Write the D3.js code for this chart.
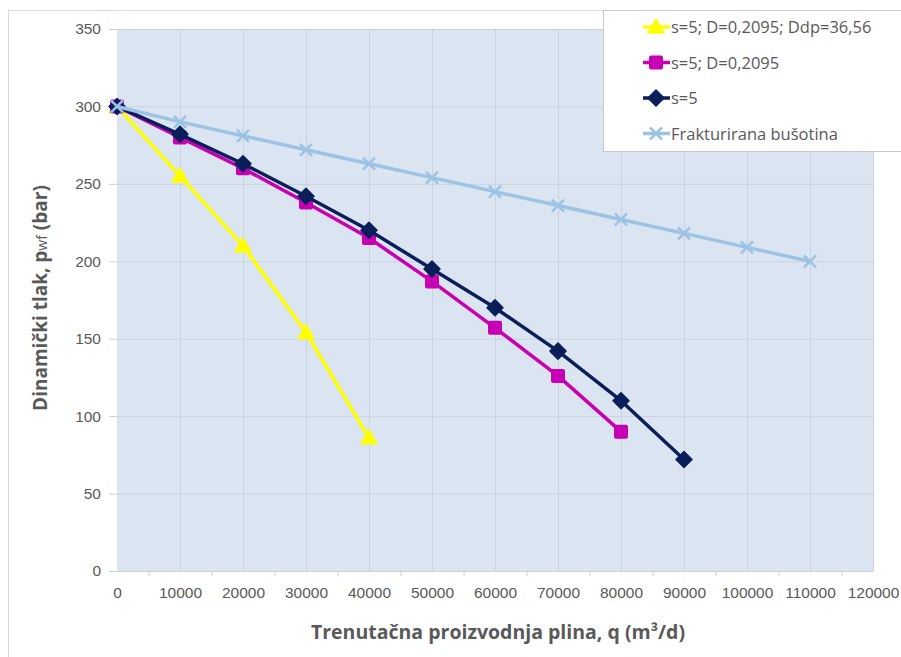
<!DOCTYPE html>
<html>
<head>
<meta charset="utf-8">
<script src="https://cdn.jsdelivr.net/npm/d3@7"></script>
<style>
  body { margin: 0; background: #fff; }
  svg { display: block; font-family: "Open Sans", "Liberation Sans", sans-serif; }
</style>
</head>
<body>
<svg id="chart" width="901" height="657"></svg>
<script>
// protok plina (m3/d)
var protok = [0, 10000, 20000, 30000, 40000, 50000, 60000, 70000, 80000, 90000, 100000, 110000];
var xTicks = [0, 10000, 20000, 30000, 40000, 50000, 60000, 70000, 80000, 90000, 100000, 110000, 120000];
var yTicks = [0, 50, 100, 150, 200, 250, 300, 350];

var tlakSDDdp = [300, 255, 210, 154, 86];
var tlakSD = [300, 280, 260, 238, 215, 187, 157, 126, 90];
var tlakS = [300, 282, 263, 242, 220, 195, 170, 142, 110, 72];
var tlakFrak = [300, 290, 281, 272, 263, 254, 245, 236, 227, 218, 209, 200];

var serije = [
  { naziv: "s=5; D=0,2095; Ddp=36,56", vrijednosti: tlakSDDdp, boja: "#ffff00", marker: "triangle" },
  { naziv: "s=5; D=0,2095", vrijednosti: tlakSD, boja: "#c800b4", marker: "square" },
  { naziv: "s=5", vrijednosti: tlakS, boja: "#0a1e5a", marker: "diamond" },
  { naziv: "Frakturirana bušotina", vrijednosti: tlakFrak, boja: "#9cc2e5", marker: "cross" }
];

var svg = d3.select("#chart");
var plot = { left: 117, right: 873, top: 29, bottom: 571 };

var x = d3.scaleLinear().domain([0, 120000]).range([plot.left, plot.right]);
var y = d3.scaleLinear().domain([0, 350]).range([plot.bottom, plot.top]);

// okvir grafikona
svg.append("rect")
  .attr("x", 8.5).attr("y", 10.5).attr("width", 910).attr("height", 660)
  .attr("fill", "#fff").attr("stroke", "#d9d9d9");

svg.append("rect")
  .attr("x", plot.left).attr("y", plot.top)
  .attr("width", plot.right - plot.left).attr("height", plot.bottom - plot.top)
  .attr("fill", "#dbe5f1");

// mreža
svg.append("g").selectAll("line").data(yTicks.slice(1)).enter().append("line")
  .attr("x1", plot.left).attr("x2", plot.right)
  .attr("y1", function(d) { return y(d) + 0.5; }).attr("y2", function(d) { return y(d) + 0.5; })
  .attr("stroke", "#c9d3df").attr("stroke-width", 1);
svg.append("g").selectAll("line").data(xTicks.slice(1)).enter().append("line")
  .attr("y1", plot.top).attr("y2", plot.bottom)
  .attr("x1", function(d) { return x(d) + 0.5; }).attr("x2", function(d) { return x(d) + 0.5; })
  .attr("stroke", "#c9d3df").attr("stroke-width", 1);

// osi
var ejeX = d3.axisBottom(x).tickValues(xTicks).tickSize(0).tickPadding(16).tickFormat(d3.format("d"));
var ejeY = d3.axisLeft(y).tickValues(yTicks).tickSize(8).tickPadding(8);

var gx = svg.append("g").attr("transform", "translate(0," + plot.bottom + ")").call(ejeX);
gx.select(".domain").attr("stroke", "#d0d0d0");
gx.selectAll("text").attr("fill", "#595959").style("font-size", "15.5px");
svg.append("g").selectAll("line")
  .data(xTicks.slice(0, -1).map(function(d) { return d + 5000; }))
  .enter().append("line")
  .attr("x1", function(d) { return x(d) + 0.5; }).attr("x2", function(d) { return x(d) + 0.5; })
  .attr("y1", plot.bottom).attr("y2", plot.bottom + 5)
  .attr("stroke", "#d0d0d0");

var gy = svg.append("g").attr("transform", "translate(" + plot.left + ",0)").call(ejeY);
gy.select(".domain").remove();
gy.selectAll(".tick line").attr("stroke", "#d0d0d0");
gy.selectAll("text").attr("fill", "#595959").style("font-size", "15.5px");

// naslovi osi
svg.append("text")
  .attr("x", 498).attr("y", 639)
  .attr("text-anchor", "middle")
  .attr("fill", "#595959").style("font-size", "19.5px").style("font-weight", "bold")
  .text("Trenutačna proizvodnja plina, q (m³/d)");

var yNaslov = svg.append("text")
  .attr("transform", "translate(47,298) rotate(-90)")
  .attr("text-anchor", "middle")
  .attr("fill", "#595959").style("font-size", "19px").style("font-weight", "bold");
yNaslov.append("tspan").text("Dinamički tlak, p");
yNaslov.append("tspan").style("font-size", "14px").style("font-weight", "normal").text("wf");
yNaslov.append("tspan").text(" (bar)");

function nacrtajMarker(g, tip, boja) {
  if (tip === "triangle") {
    g.append("path").attr("d", "M0,-8 L8,6 L-8,6 Z").attr("fill", boja).attr("stroke", boja).attr("stroke-width", 1.5).attr("stroke-linejoin", "round");
  } else if (tip === "square") {
    g.append("rect").attr("x", -7).attr("y", -7).attr("width", 14).attr("height", 14).attr("rx", 2).attr("fill", boja);
  } else if (tip === "diamond") {
    g.append("path").attr("d", "M0,-8 L8,0 L0,8 L-8,0 Z").attr("fill", boja).attr("stroke", boja).attr("stroke-width", 1.5).attr("stroke-linejoin", "round");
  } else {
    g.append("path").attr("d", "M-6,-6 L6,6 M-6,6 L6,-6").attr("stroke", boja).attr("stroke-width", 2.5).attr("fill", "none");
  }
}

var linija = d3.line()
  .x(function(d, i) { return x(protok[i]); })
  .y(function(d) { return y(d); });

serije.forEach(function(s) {
  var g = svg.append("g");
  g.append("path")
    .attr("d", linija(s.vrijednosti))
    .attr("fill", "none").attr("stroke", s.boja).attr("stroke-width", 3.5).attr("stroke-linejoin", "round");
  s.vrijednosti.forEach(function(v, i) {
    var m = g.append("g").attr("transform", "translate(" + x(protok[i]) + "," + y(v) + ")");
    nacrtajMarker(m, s.marker, s.boja);
  });
});

// legenda
var leg = svg.append("g");
leg.append("rect")
  .attr("x", 603.5).attr("y", 10.5).attr("width", 310).attr("height", 141)
  .attr("fill", "#fff").attr("stroke", "#c8c8c8");
serije.forEach(function(s, i) {
  var yy = 27 + i * 35.5;
  var g = leg.append("g");
  g.append("line").attr("x1", 643).attr("x2", 670).attr("y1", yy).attr("y2", yy)
    .attr("stroke", s.boja).attr("stroke-width", 3.5);
  var m = g.append("g").attr("transform", "translate(656," + yy + ")");
  nacrtajMarker(m, s.marker, s.boja);
  g.append("text").attr("x", 671).attr("y", yy + 6)
    .attr("fill", "#595959").style("font-size", "16.5px").text(s.naziv);
});
</script>
</body>
</html>
